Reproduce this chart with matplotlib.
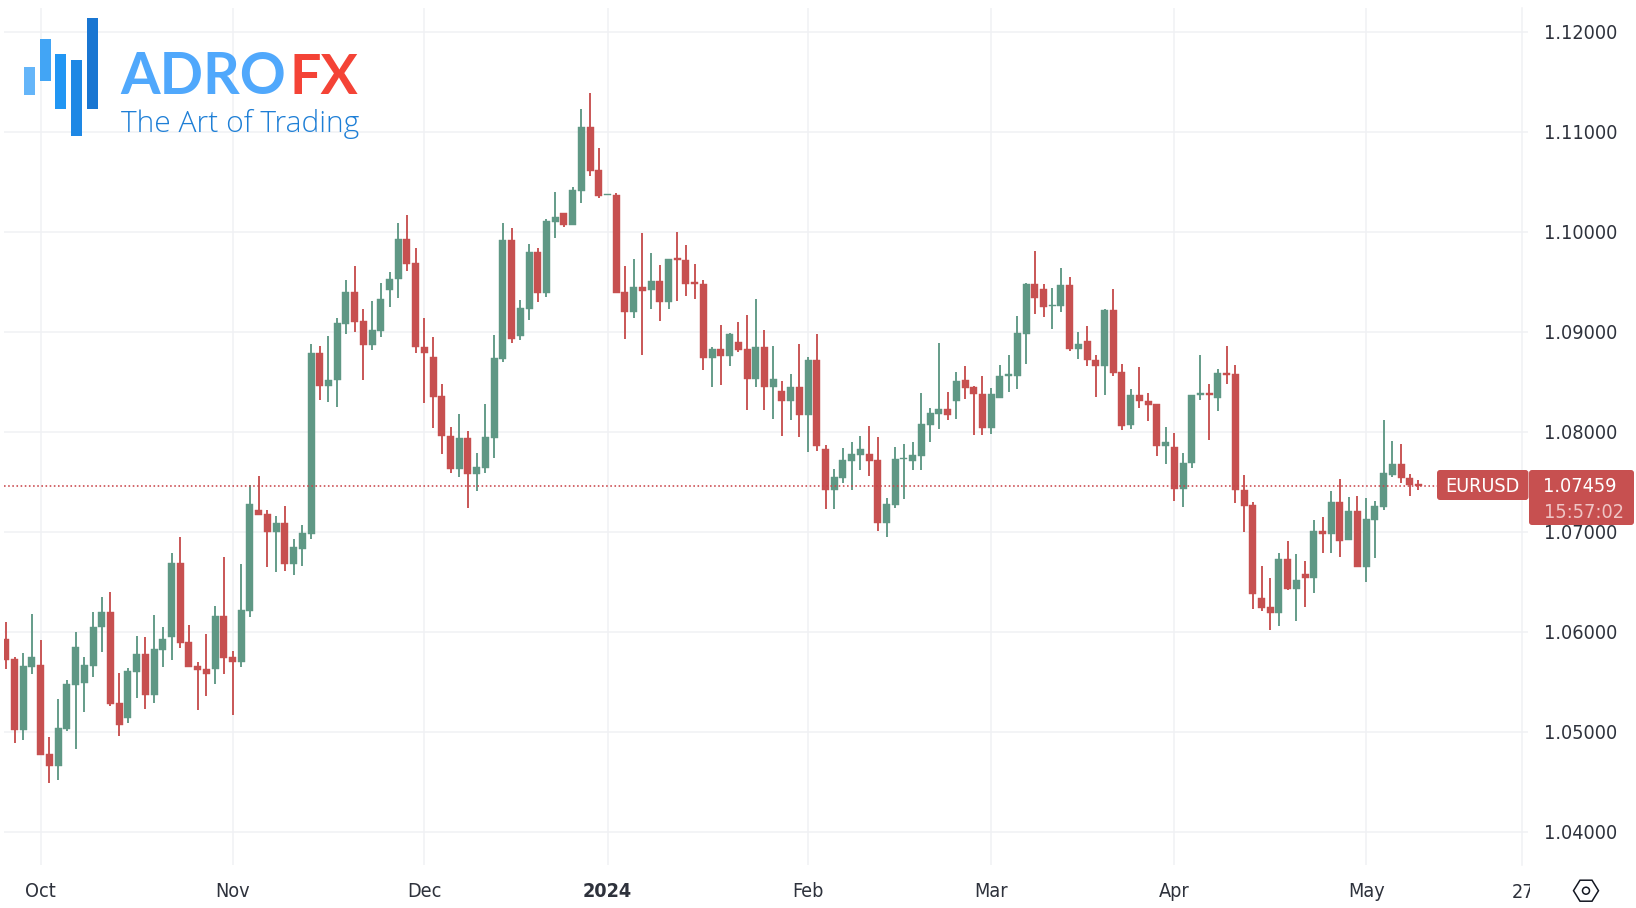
import matplotlib
matplotlib.use("Agg")
import matplotlib.pyplot as plt
from matplotlib.patches import FancyBboxPatch, Rectangle, Polygon, Circle
from matplotlib.transforms import Bbox
import numpy as np

# ---------- data (first candle sits four sessions before 2 Oct 2023) ----------
FIRST_INDEX = -4
highs = [
    1.06092,1.05742,1.05785,1.06172,1.05915,1.04942,1.05325,1.05515,1.05995,1.05742,
    1.06195,1.06345,1.06395,1.05582,1.05632,1.05955,1.05942,1.06165,1.06042,1.06782,
    1.06945,1.06065,1.05692,1.05972,1.06252,1.06745,1.05802,1.06675,1.07462,1.07555,
    1.07215,1.07155,1.07255,1.06928,1.07062,1.08875,1.08858,1.08955,1.09135,1.09515,
    1.09655,1.09225,1.09305,1.09485,1.09592,1.10088,1.10165,1.09835,1.09132,1.08945,
    1.08475,1.08045,1.08178,1.08005,1.07785,1.08275,1.08965,1.10088,1.10035,1.09312,
    1.09872,1.09832,1.10122,1.10395,1.10185,1.10442,1.11225,1.11388,1.10838,1.10372,
    1.10382,1.09652,1.09725,1.09982,1.09785,1.09662,1.09722,1.09992,1.09862,1.09672,
    1.09512,1.08842,1.09068,1.08982,1.09095,1.09162,1.09322,1.09015,1.08858,1.08502,
    1.08575,1.08875,1.08748,1.08972,1.07862,1.07622,1.07835,1.07892,1.07952,1.08055,
    1.07942,1.07338,1.07845,1.07875,1.07892,1.08385,1.08238,1.08885,1.08392,1.08592,
    1.08655,1.08455,1.08555,1.08432,1.08665,1.08762,1.09155,1.09485,1.09808,1.09475,
    1.09435,1.09635,1.09545,1.08995,1.09058,1.08762,1.09225,1.09425,1.08672,1.08425,
    1.08642,1.08385,1.08275,1.08045,1.07985,1.07782,1.08368,1.08762,1.08472,1.08622,
    1.08852,1.08665,1.07565,1.07292,1.06652,1.06535,1.06788,1.06905,1.06775,1.06702,
    1.07112,1.07142,1.07402,1.07525,1.07342,1.07355,1.07332,1.07302,1.08115,1.07905,
    1.07872,1.07572,1.07512,
]
lows = [
    1.05622,1.04882,1.04915,1.05572,1.04768,1.04488,1.04515,1.05002,1.04822,1.05195,
    1.05548,1.05798,1.05255,1.04958,1.05088,1.05335,1.05228,1.05282,1.05648,1.05715,
    1.05832,1.05648,1.05212,1.05352,1.05475,1.05578,1.05168,1.05648,1.06148,1.07168,
    1.06645,1.06592,1.06602,1.06565,1.06652,1.06928,1.08315,1.08298,1.08248,1.08975,
    1.08995,1.08518,1.08818,1.08945,1.09245,1.09338,1.09602,1.08788,1.08285,1.08035,
    1.07775,1.07585,1.07548,1.07238,1.07408,1.07585,1.07735,1.08695,1.08885,1.08918,
    1.09115,1.09295,1.09345,1.09935,1.10045,1.10065,1.10282,1.10555,1.10338,1.10362,
    1.09385,1.08928,1.09138,1.08765,1.09225,1.09105,1.09225,1.09305,1.09355,1.09328,
    1.08615,1.08442,1.08465,1.08658,1.08798,1.08215,1.08442,1.08215,1.08125,1.07958,
    1.08115,1.07945,1.07795,1.07805,1.07228,1.07228,1.07488,1.07412,1.07618,1.07555,
    1.07002,1.06948,1.07235,1.07325,1.07618,1.07615,1.07898,1.08028,1.08115,1.08125,
    1.08325,1.07962,1.07962,1.07978,1.08338,1.08395,1.08425,1.08675,1.09175,1.09145,
    1.09025,1.09198,1.08808,1.08728,1.08658,1.08348,1.08362,1.08555,1.08015,1.08025,
    1.08238,1.08108,1.07752,1.07675,1.07305,1.07248,1.07638,1.08318,1.07918,1.08205,
    1.08475,1.07288,1.06995,1.06225,1.06205,1.06015,1.06058,1.06418,1.06102,1.06242,
    1.06388,1.06782,1.06782,1.06742,1.06912,1.06645,1.06495,1.06738,1.07218,1.07548,
    1.07482,1.07352,1.07418,
]
opens = [
    1.05925,1.05725,1.05015,1.05648,1.05665,1.04775,1.04655,1.05028,1.05465,1.05488,
    1.05655,1.06045,1.06195,1.05282,1.05135,1.05598,1.05772,1.05362,1.05815,1.05948,
    1.06685,1.05892,1.05655,1.05622,1.05622,1.06155,1.05745,1.05695,1.06208,1.07218,
    1.07175,1.06995,1.07085,1.06672,1.06825,1.06978,1.08788,1.08458,1.08512,1.09075,
    1.09398,1.09102,1.08868,1.09008,1.09418,1.09525,1.09925,1.09685,1.08848,1.08745,
    1.08352,1.07958,1.07628,1.07935,1.07575,1.07635,1.07935,1.08728,1.09915,1.08955,
    1.09225,1.09798,1.09385,1.10095,1.10185,1.10065,1.10405,1.11048,1.10615,1.10362,
    1.10368,1.09392,1.09198,1.09445,1.09415,1.09505,1.09295,1.09732,1.09712,1.09495,
    1.09475,1.08735,1.08825,1.08755,1.08895,1.08825,1.08528,1.08842,1.08448,1.08405,
    1.08302,1.08448,1.08168,1.08712,1.07822,1.07412,1.07535,1.07708,1.07768,1.07775,
    1.07715,1.07082,1.07265,1.07722,1.07708,1.07758,1.08065,1.08178,1.08222,1.08308,
    1.08512,1.08442,1.08375,1.08038,1.08338,1.08555,1.08555,1.08975,1.09475,1.09422,
    1.09252,1.09252,1.09468,1.08825,1.08902,1.08715,1.08652,1.09215,1.08592,1.08065,
    1.08368,1.08308,1.08275,1.07855,1.07845,1.07422,1.07685,1.08365,1.08382,1.08335,
    1.08588,1.08572,1.07418,1.07262,1.06335,1.06242,1.06182,1.06728,1.06425,1.06572,
    1.06532,1.07008,1.06975,1.07295,1.06912,1.07208,1.06645,1.07115,1.07245,1.07562,
    1.07672,1.07538,1.07475,
]
closes = [
    1.05715,1.05015,1.05655,1.05745,1.04768,1.04655,1.05035,1.05475,1.05848,1.05665,
    1.06048,1.06195,1.05275,1.05068,1.05605,1.05772,1.05362,1.05825,1.05925,1.06685,
    1.05885,1.05648,1.05615,1.05578,1.06155,1.05735,1.05695,1.06215,1.07278,1.07168,
    1.06995,1.07085,1.06672,1.06842,1.06982,1.08788,1.08458,1.08515,1.09082,1.09398,
    1.09095,1.08868,1.09015,1.09328,1.09528,1.09925,1.09678,1.08845,1.08782,1.08345,
    1.07955,1.07628,1.07935,1.07575,1.07645,1.07942,1.08735,1.09915,1.08928,1.09232,
    1.09798,1.09385,1.10105,1.10145,1.10065,1.10412,1.11048,1.10605,1.10358,1.10372,
    1.09385,1.09198,1.09445,1.09402,1.09505,1.09295,1.09722,1.09715,1.09478,1.09475,
    1.08735,1.08825,1.08755,1.08972,1.08815,1.08528,1.08842,1.08448,1.08525,1.08302,
    1.08448,1.08168,1.08712,1.07855,1.07412,1.07542,1.07715,1.07775,1.07828,1.07708,
    1.07082,1.07272,1.07725,1.07738,1.07765,1.08075,1.08185,1.08222,1.08168,1.08508,
    1.08435,1.08375,1.08038,1.08372,1.08555,1.08572,1.08982,1.09478,1.09332,1.09245,
    1.09268,1.09468,1.08825,1.08875,1.08712,1.08652,1.09218,1.08585,1.08055,1.08368,
    1.08302,1.08265,1.07855,1.07892,1.07422,1.07688,1.08362,1.08382,1.08365,1.08588,
    1.08568,1.07412,1.07255,1.06375,1.06235,1.06182,1.06728,1.06425,1.06518,1.06532,
    1.07008,1.06975,1.07295,1.06908,1.07208,1.06645,1.07122,1.07252,1.07582,1.07672,
    1.07535,1.07465,1.07459,
]
price_ticks = [1.04, 1.05, 1.06, 1.07, 1.08, 1.09, 1.10, 1.11, 1.12]
month_positions = [0, 22, 44, 65, 88, 109, 130, 152]
month_labels = ["Oct", "Nov", "Dec", "2024", "Feb", "Mar", "Apr", "May"]
edge_label = "27"
edge_position = 170
last_price = 1.07459
countdown = "15:57:02"
symbol = "EURUSD"

# ---------- styling ----------
UP = "#5F9885"
DOWN = "#C75050"
GRID = "#F0F1F4"
TXT = "#2E323C"
W, H = 1636, 908
FONT = dict(family="DejaVu Sans", stretch="condensed")
plt.rcParams["font.family"] = ["DejaVu Sans"]

fig = plt.figure(figsize=(W / 100, H / 100), dpi=100, facecolor="white")
L, R, T, B = 4, 1522, 8, 865
ax = fig.add_axes([L / W, 1 - B / H, (R - L) / W, (B - T) / H])
ax.set_xlim((L - 40.7) / 8.72, (R - 40.7) / 8.72)
ax.set_ylim(1.12 - (B - 31.5) / 1e4, 1.12 - (T - 31.5) / 1e4)

idx = np.arange(FIRST_INDEX, FIRST_INDEX + len(opens))
o, h, l, c = map(np.array, (opens, highs, lows, closes))
cols = np.where(c >= o, UP, DOWN)
ax.vlines(idx, l, h, colors=cols, linewidth=1.35, zorder=3)
ax.bar(idx, np.abs(c - o), bottom=np.minimum(o, c), width=0.8, color=cols,
       linewidth=0.3, edgecolor=cols, zorder=3)

ax.axhline(last_price, xmax=(1437 - L) / (R - L), color="#C9454A", lw=1.15,
           linestyle=(0, (1.0, 1.6)), zorder=4)

ax.set_axisbelow(True)
ax.grid(True, color=GRID, linewidth=1.1)
for s in ("top", "left", "bottom"):
    ax.spines[s].set_visible(False)
ax.spines["right"].set_color(GRID)
ax.spines["right"].set_linewidth(1.1)
ax.yaxis.tick_right()
ax.set_yticks(price_ticks)
ax.set_yticklabels([f"{p:.5f}" for p in price_ticks], fontsize=14.2, color=TXT, **FONT)
ax.tick_params(axis="y", length=4.3, width=1.1, color=GRID, pad=11.5)
ax.set_xticks(month_positions)
ax.set_xticklabels(month_labels, fontsize=14.2, color=TXT, **FONT)
ax.tick_params(axis="x", length=0, pad=12.5)
ax.get_xticklabels()[3].set_fontweight("bold")

# overlay in pixel coordinates for logo, badges and the settings icon
ov = fig.add_axes([0, 0, 1, 1], zorder=10)
ov.set_xlim(0, W)
ov.set_ylim(H, 0)
ov.axis("off")

edge = ax.text(edge_position, -18.5 / (B - T), edge_label, transform=ax.get_xaxis_transform(),
               fontsize=14.2, color=TXT, ha="center", va="top", **FONT)
edge.set_clip_on(True)
edge.set_clip_box(Bbox([[1400, 0], [1530, 100]]))

# logo
for (x0, x1, y0, y1, col) in [
    (24, 34.7, 66.7, 95, "#64B5F9"), (39.7, 50.7, 39, 80.7, "#42A5F5"),
    (55.3, 66.3, 54.3, 109, "#2196F3"), (71.3, 82, 60, 136, "#1E88E5"),
    (87, 98, 18, 109, "#1976D2")]:
    ov.add_patch(Rectangle((x0, y0), x1 - x0, y1 - y0, color=col, lw=0))
ov.text(120, 94.5, "ADRO", fontsize=41, fontweight="bold", family="Lato", color="#50A8FC",
        ha="left", va="baseline")
ov.text(290, 94.5, "FX", fontsize=40, fontweight="bold", family="Lato", color="#F44336",
        ha="left", va="baseline")
ov.text(121, 131.7, "The Art of Trading", fontsize=21.6, fontweight="light", family="Open Sans",
        color="#1E7FD6", ha="left", va="baseline")

# price badges
ov.add_patch(FancyBboxPatch((1439, 472), 87.5, 26, boxstyle="round,pad=2,rounding_size=3",
                            fc=DOWN, ec="none"))
ov.add_patch(FancyBboxPatch((1531, 472), 101, 51, boxstyle="round,pad=2,rounding_size=3",
                            fc=DOWN, ec="none"))
ov.text(1482.5, 487, symbol, color="white", fontsize=14.2, ha="center", va="center", **FONT)
ov.text(1580, 487, f"{last_price:.5f}", color="white", fontsize=14.2, ha="center", va="center", **FONT)
ov.text(1584, 512.5, countdown, color="#EFC6C6", fontsize=14.2, ha="center", va="center", **FONT)

# settings icon
cx, cy = 1586, 890.7
ov.add_patch(Polygon([(cx - 12.5, cy), (cx - 6, cy - 10.5), (cx + 6, cy - 10.5),
                      (cx + 12.5, cy), (cx + 6, cy + 10.5), (cx - 6, cy + 10.5)],
                     closed=True, fc="none", ec="#131722", lw=1.1))
ov.add_patch(Circle((cx, cy), 3.5, fc="none", ec="#131722", lw=1.1))

fig.savefig("out.png", dpi=100, facecolor="white")
